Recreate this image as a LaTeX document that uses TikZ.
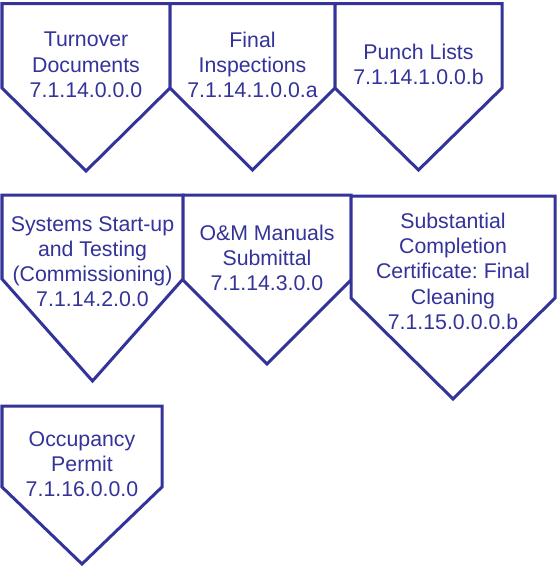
\documentclass[tikz,border=0pt]{standalone}
\usepackage{fontspec}
\setmainfont{Liberation Sans}
\definecolor{navy}{RGB}{51,51,153}
\frenchspacing
\tikzset{
  pent/.style={draw=navy, line width=3pt, line join=miter, fill=white},
  lbl/.style={text=navy, font=\fontsize{21.3}{25.3}\selectfont, align=center, anchor=north, inner sep=0pt}
}
% left, right, top, shoulder, tip y
\newcommand{\pentag}[5]{%
  \draw[pent] (#1,#3) -- (#2,#3) -- (#2,#4) -- ({(#1+#2)/2},#5) -- (#1,#4) -- cycle;}
\begin{document}
\begin{tikzpicture}[x=1pt,y=-1pt]
\useasboundingbox (0,0) rectangle (557,566);
% row 1
\pentag{2}{170}{3.5}{88}{171}
\pentag{170}{335}{3.5}{88}{170}
\pentag{335}{502}{3.5}{88}{170}
% row 2
\pentag{2}{183}{195}{279}{381}
\pentag{183}{351}{195}{280}{364}
\pentag{351}{555}{196}{298}{399}
% row 3
\pentag{2}{162}{406}{487}{564}
% labels
\node[lbl] (t1) at (86,32) {Turnover\\Documents\\7.1.14.0.0.0};
\node[lbl] (t2) at (252.5,31.5) {Final\\Inspections\\7.1.14.1.0.0.a};
\node[lbl] (t3) at (418.5,43.5) {Punch Lists\\7.1.14.1.0.0.b};
\node[lbl] (t4) at (92.5,216) {Systems Start-up\\and Testing\\(Commissioning)\\7.1.14.2.0.0};
\node[lbl] (t5) at (267,224.5) {O\&M Manuals\\Submittal\\7.1.14.3.0.0};
\node[lbl] (t6) at (453,212.5) {Substantial\\Completion\\Certificate: Final\\Cleaning\\7.1.15.0.0.0.b};
\node[lbl] (t7) at (82,431) {Occupancy\\Permit\\7.1.16.0.0.0};
\end{tikzpicture}
\end{document}
